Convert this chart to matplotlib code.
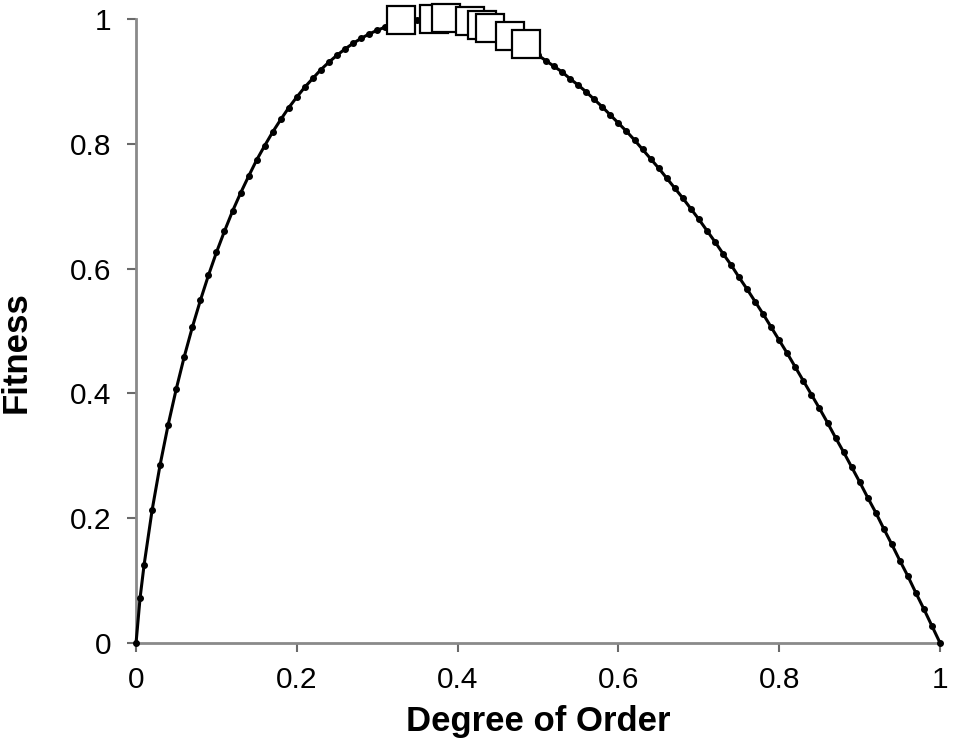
import matplotlib.pyplot as plt

# degree of order (x) and fitness (y) of the small-dot curve
order = [0.0, 0.005,
         0.01, 0.02, 0.03, 0.04, 0.05, 0.06, 0.07, 0.08, 0.09, 0.10,
         0.11, 0.12, 0.13, 0.14, 0.15, 0.16, 0.17, 0.18, 0.19, 0.20,
         0.21, 0.22, 0.23, 0.24, 0.25, 0.26, 0.27, 0.28, 0.29, 0.30,
         0.31, 0.32, 0.33, 0.34, 0.35, 0.36, 0.37, 0.38, 0.39, 0.40,
         0.41, 0.42, 0.43, 0.44, 0.45, 0.46, 0.47, 0.48, 0.49, 0.50,
         0.51, 0.52, 0.53, 0.54, 0.55, 0.56, 0.57, 0.58, 0.59, 0.60,
         0.61, 0.62, 0.63, 0.64, 0.65, 0.66, 0.67, 0.68, 0.69, 0.70,
         0.71, 0.72, 0.73, 0.74, 0.75, 0.76, 0.77, 0.78, 0.79, 0.80,
         0.81, 0.82, 0.83, 0.84, 0.85, 0.86, 0.87, 0.88, 0.89, 0.90,
         0.91, 0.92, 0.93, 0.94, 0.95, 0.96, 0.97, 0.98, 0.99, 1.00]
fitness = [0.0, 0.072,
           0.125, 0.213, 0.286, 0.350, 0.407, 0.459, 0.506, 0.549, 0.589, 0.626,
           0.660, 0.692, 0.721, 0.748, 0.774, 0.797, 0.819, 0.839, 0.858, 0.875,
           0.891, 0.905, 0.919, 0.931, 0.942, 0.952, 0.961, 0.969, 0.976, 0.982,
           0.987, 0.991, 0.995, 0.997, 0.999, 1.000, 1.000, 0.999, 0.998, 0.996,
           0.994, 0.990, 0.986, 0.982, 0.977, 0.971, 0.965, 0.958, 0.950, 0.942,
           0.933, 0.924, 0.915, 0.904, 0.894, 0.883, 0.871, 0.859, 0.846, 0.833,
           0.820, 0.806, 0.791, 0.776, 0.761, 0.745, 0.729, 0.713, 0.696, 0.679,
           0.661, 0.643, 0.624, 0.606, 0.586, 0.567, 0.547, 0.527, 0.506, 0.485,
           0.464, 0.442, 0.420, 0.398, 0.376, 0.353, 0.329, 0.306, 0.282, 0.258,
           0.233, 0.209, 0.183, 0.158, 0.132, 0.107, 0.080, 0.054, 0.027, 0.0]

# open squares near the peak
sq_order = [0.33, 0.37, 0.385, 0.415, 0.43, 0.44, 0.465, 0.485]
sq_fitness = [0.998, 1.0, 1.002, 0.996, 0.99, 0.985, 0.972, 0.96]

ticks = [0, 0.2, 0.4, 0.6, 0.8, 1]
tick_labels = ['0', '0.2', '0.4', '0.6', '0.8', '1']

plt.rcParams['font.family'] = ['Liberation Sans', 'DejaVu Sans']

fig = plt.figure(figsize=(9.54, 7.48), dpi=100)
ax = fig.add_axes([0.1426, 0.1404, 0.8428, 0.8342])

ax.plot(order, fitness, color='black', lw=2.2, marker='o', ms=4,
        clip_on=False, zorder=3)
for x, y in zip(sq_order, sq_fitness):
    ax.plot([x], [y], marker='s', ms=19.5, mfc='white', mec='black',
            mew=1.6, ls='none', clip_on=False, zorder=4)

ax.set_xlim(0, 1)
ax.set_ylim(0, 1)
ax.set_xticks(ticks)
ax.set_xticklabels(tick_labels)
ax.set_yticks(ticks)
ax.set_yticklabels(tick_labels)

for side in ['top', 'right']:
    ax.spines[side].set_visible(False)
for side in ['left', 'bottom']:
    ax.spines[side].set_color('#8a8a8a')
    ax.spines[side].set_linewidth(2)

ax.tick_params(axis='y', direction='out', length=6.5, width=1.5,
               color='#6a6a6a', labelsize=21.5, pad=11)
ax.tick_params(axis='x', direction='out', length=6.5, width=1.5,
               color='#6a6a6a', labelsize=21.5, pad=10)

ax.set_xlabel('Degree of Order', fontsize=25, fontweight='bold')
ax.set_ylabel('Fitness', fontsize=25, fontweight='bold')
ax.xaxis.set_label_coords(0.5, -0.099)
ax.yaxis.set_label_coords(-0.129, 0.466)

fig.savefig('out.png', dpi=100)
